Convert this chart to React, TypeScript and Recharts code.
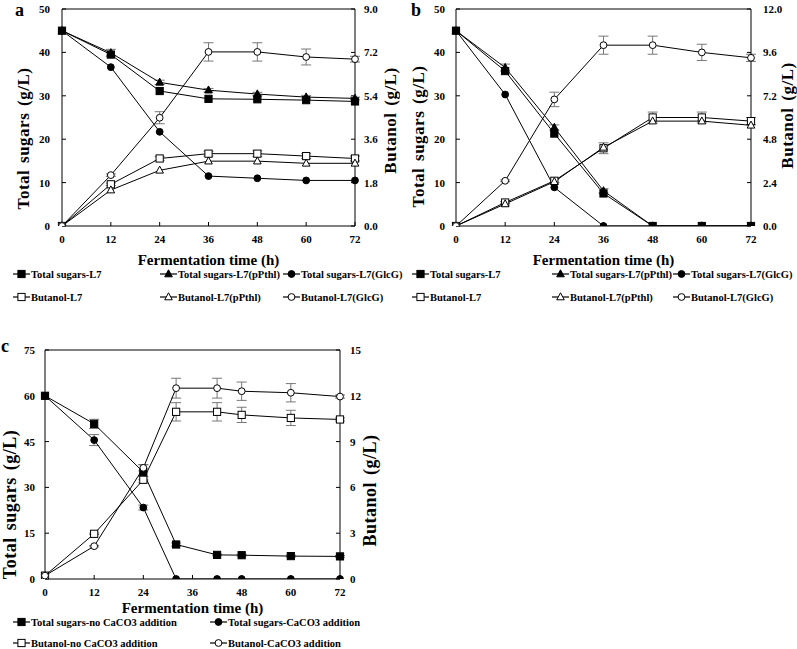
import React from 'react';
import { LineChart, Line, XAxis, YAxis, ErrorBar, ReferenceLine, Legend } from 'recharts';

const SERIF = '"Liberation Serif", "Times New Roman", serif';

// fermentation time (h)
const hoursAB = [0, 12, 24, 36, 48, 60, 72];
const hoursC = [0, 12, 24, 32, 42, 48, 60, 72];
const hourTicks = [0, 12, 24, 36, 48, 60, 72];

// panel a
const aSugarL7 = [45, 39.5, 31.1, 29.3, 29.2, 29.0, 28.7];
const aSugarPthl = [45, 39.9, 33.1, 31.3, 30.4, 29.7, 29.4];
const aSugarGlcG = [45, 36.6, 21.7, 11.5, 11.0, 10.5, 10.5];
const aButL7 = [0, 1.73, 2.8, 3.0, 3.0, 2.9, 2.8];
const aButPthl = [0, 1.49, 2.31, 2.69, 2.69, 2.6, 2.6];
const aButGlcG = [0, 2.11, 4.49, 7.22, 7.22, 7.01, 6.92];
const aSugarPthlErr = [0, 0.8, 0.5, 0.4, 0.4, 0.4, 0.3];
const aButL7Err = [0, 0.05, 0.08, 0.1, 0.12, 0.1, 0.1];
const aButGlcGErr = [0, 0.05, 0.25, 0.38, 0.38, 0.33, 0.12];

// panel b
const bSugarL7 = [45, 35.7, 21.3, 7.5, 0, 0, 0];
const bSugarPthl = [45, 36.5, 22.7, 8.1, 0, 0, 0];
const bSugarGlcG = [45, 30.3, 8.9, 0, 0, 0, 0];
const bButL7 = [0, 1.3, 2.5, 4.3, 6.0, 6.0, 5.8];
const bButPthl = [0, 1.22, 2.45, 4.35, 5.8, 5.8, 5.57];
const bButGlcG = [0, 2.5, 7.0, 10.0, 10.0, 9.6, 9.3];
const bSugarPthlErr = [0, 0.8, 0.6, 0.5, 0, 0, 0];
const bButL7Err = [0, 0.05, 0.1, 0.3, 0.3, 0.3, 0.2];
const bButGlcGErr = [0, 0.05, 0.4, 0.5, 0.5, 0.45, 0.2];

// panel c
const cSugarNo = [60, 50.8, 35.0, 11.3, 7.9, 7.8, 7.5, 7.4];
const cSugarCa = [60, 45.5, 23.4, 0, 0, 0, 0, 0];
const cButNo = [0.22, 2.96, 6.5, 10.95, 10.95, 10.75, 10.55, 10.45];
const cButCa = [0.22, 2.15, 7.28, 12.5, 12.5, 12.3, 12.2, 11.95];
const cSugarNoErr = [0, 1.5, 2.5, 0.5, 0.3, 0.3, 0.3, 0.3];
const cSugarCaErr = [0, 1.8, 0.8, 0, 0, 0, 0, 0];
const cButNoErr = [0, 0.05, 0.2, 0.6, 0.6, 0.5, 0.5, 0.1];
const cButCaErr = [0, 0.05, 0.2, 0.65, 0.65, 0.6, 0.6, 0.1];

const sugarTicksAB = [0, 10, 20, 30, 40, 50];
const butTicksA = [0, 1.8, 3.6, 5.4, 7.2, 9];
const butTicksB = [0, 2.4, 4.8, 7.2, 9.6, 12];
const sugarTicksC = [0, 15, 30, 45, 60, 75];
const butTicksC = [0, 3, 6, 9, 12, 15];

type Shape = 'square' | 'triangle' | 'circle';
interface Series {
  key: string;
  name: string;
  axis: 'L' | 'R';
  shape: Shape;
  filled: boolean;
  values: number[];
  err?: number[];
}

function marker(shape: Shape, filled: boolean) {
  return (props: any) => {
    const { cx, cy, index } = props;
    const k = `d${index}`;
    if (cx == null || cy == null) return <g key={k} />;
    const paint = { fill: filled ? '#000' : '#fff', stroke: '#000', strokeWidth: 1 };
    if (shape === 'square') return <rect key={k} x={cx - 3.6} y={cy - 3.6} width={7.2} height={7.2} {...paint} />;
    if (shape === 'triangle')
      return <polygon key={k} points={`${cx},${cy - 4.2} ${cx + 3.8},${cy + 2.8} ${cx - 3.8},${cy + 2.8}`} {...paint} />;
    return <circle key={k} cx={cx} cy={cy} r={3.4} {...paint} />;
  };
}

function LegendIcon({ shape, filled }: { shape: Shape; filled: boolean }) {
  return (
    <svg width={17} height={10} style={{ display: 'block' }}>
      <line x1={0} y1={5} x2={17} y2={5} stroke="#000" strokeWidth={1.2} />
      {marker(shape, filled)({ cx: 8.5, cy: 5, index: 0 })}
    </svg>
  );
}

function toRows(hours: number[], series: Series[]) {
  return hours.map((t, i) => {
    const row: any = { t };
    series.forEach((s) => {
      row[s.key] = s.values[i];
      if (s.err) row[s.key + '_e'] = s.err[i];
    });
    return row;
  });
}

const namesAB = [
  'Total sugars-L7',
  'Total sugars-L7(pPthl)',
  'Total sugars-L7(GlcG)',
  'Butanol-L7',
  'Butanol-L7(pPthl)',
  'Butanol-L7(GlcG)',
];

const seriesA: Series[] = [
  { key: 's1', name: namesAB[0], axis: 'L', shape: 'square', filled: true, values: aSugarL7 },
  { key: 's2', name: namesAB[1], axis: 'L', shape: 'triangle', filled: true, values: aSugarPthl, err: aSugarPthlErr },
  { key: 's3', name: namesAB[2], axis: 'L', shape: 'circle', filled: true, values: aSugarGlcG },
  { key: 'b1', name: namesAB[3], axis: 'R', shape: 'square', filled: false, values: aButL7, err: aButL7Err },
  { key: 'b2', name: namesAB[4], axis: 'R', shape: 'triangle', filled: false, values: aButPthl },
  { key: 'b3', name: namesAB[5], axis: 'R', shape: 'circle', filled: false, values: aButGlcG, err: aButGlcGErr },
];

const seriesB: Series[] = [
  { key: 's1', name: namesAB[0], axis: 'L', shape: 'square', filled: true, values: bSugarL7 },
  { key: 's2', name: namesAB[1], axis: 'L', shape: 'triangle', filled: true, values: bSugarPthl, err: bSugarPthlErr },
  { key: 's3', name: namesAB[2], axis: 'L', shape: 'circle', filled: true, values: bSugarGlcG },
  { key: 'b1', name: namesAB[3], axis: 'R', shape: 'square', filled: false, values: bButL7, err: bButL7Err },
  { key: 'b2', name: namesAB[4], axis: 'R', shape: 'triangle', filled: false, values: bButPthl },
  { key: 'b3', name: namesAB[5], axis: 'R', shape: 'circle', filled: false, values: bButGlcG, err: bButGlcGErr },
];

const seriesC: Series[] = [
  { key: 's1', name: 'Total sugars-no CaCO3 addition', axis: 'L', shape: 'square', filled: true, values: cSugarNo, err: cSugarNoErr },
  { key: 's2', name: 'Total sugars-CaCO3 addition', axis: 'L', shape: 'circle', filled: true, values: cSugarCa, err: cSugarCaErr },
  { key: 'b1', name: 'Butanol-no CaCO3 addition', axis: 'R', shape: 'square', filled: false, values: cButNo, err: cButNoErr },
  { key: 'b2', name: 'Butanol-CaCO3 addition', axis: 'R', shape: 'circle', filled: false, values: cButCa, err: cButCaErr },
];

const tickFont = { fontFamily: SERIF, fontSize: 11, fontWeight: 700, fill: '#000' };
const titleFont = { fontFamily: SERIF, fontSize: 15, fontWeight: 700, fill: '#000' };

// rotated y-axis title, placed relative to the axis box Recharts hands over
function yTitle(text: string, dx: number, dy: number, size: number) {
  return (props: any) => {
    const vb = props.viewBox || { x: 0, y: 0, width: 0, height: 0 };
    const x = vb.x + dx;
    const y = vb.y + vb.height / 2 + dy;
    return (
      <text
        x={x}
        y={y}
        transform={`rotate(-90 ${x} ${y})`}
        textAnchor="middle"
        dominantBaseline="central"
        fontFamily={SERIF}
        fontWeight={700}
        fontSize={size}
        fill="#000"
        style={{ letterSpacing: 0.5, wordSpacing: 2 }}
      >
        {text}
      </text>
    );
  };
}

interface PanelProps {
  x: number;
  y: number;
  w: number;
  h: number;
  margin: { top: number; right: number; bottom: number; left: number };
  hours: number[];
  series: Series[];
  leftTicks: number[];
  rightTicks: number[];
  rightFmt: (v: number) => string;
  tm: { x: number; l: number; r: number };
  xLabelOff: number;
  leftTitle: [number, number];
  rightTitle: [number, number];
  titleSize: number;
  xAxisH: number;
  legendH: number;
  legendCols: number[];
  legendRows: number[];
}

function Panel(p: PanelProps) {
  const data = toRows(p.hours, p.series);
  const leftMax = p.leftTicks[p.leftTicks.length - 1];
  const rightMax = p.rightTicks[p.rightTicks.length - 1];
  return (
    <div style={{ position: 'absolute', left: p.x, top: p.y }}>
      <LineChart width={p.w} height={p.h} data={data} margin={p.margin} style={{ overflow: 'visible' }}>
        <XAxis
          dataKey="t"
          type="number"
          domain={[0, 72]}
          ticks={hourTicks}
          height={p.xAxisH}
          tickSize={-4}
          tickMargin={p.tm.x}
          tick={tickFont}
          axisLine={{ stroke: '#000' }}
          tickLine={{ stroke: '#000' }}
          label={{ value: 'Fermentation time (h)', position: 'insideBottom', offset: p.xLabelOff, ...titleFont }}
        />
        <YAxis
          yAxisId="L"
          domain={[0, leftMax]}
          ticks={p.leftTicks}
          width={40}
          tickSize={-4}
          tickMargin={p.tm.l}
          tick={tickFont}
          axisLine={{ stroke: '#000' }}
          tickLine={{ stroke: '#000' }}
          allowDataOverflow
          label={yTitle('Total sugars (g/L)', p.leftTitle[0], p.leftTitle[1], p.titleSize)}
        />
        <YAxis
          yAxisId="R"
          orientation="right"
          domain={[0, rightMax]}
          ticks={p.rightTicks}
          tickFormatter={p.rightFmt}
          width={40}
          tickSize={-4}
          tickMargin={p.tm.r}
          tick={tickFont}
          axisLine={{ stroke: '#000' }}
          tickLine={{ stroke: '#000' }}
          allowDataOverflow
          label={yTitle('Butanol (g/L)', p.rightTitle[0], p.rightTitle[1], p.titleSize)}
        />
        <ReferenceLine yAxisId="L" y={leftMax} stroke="#000" strokeWidth={1} />
        {p.series.map((s) => (
          <Line
            key={s.key}
            yAxisId={s.axis}
            dataKey={s.key}
            name={s.name}
            stroke="#000"
            strokeWidth={1}
            dot={marker(s.shape, s.filled)}
            activeDot={false}
            isAnimationActive={false}
          >
            {s.err && <ErrorBar dataKey={s.key + '_e'} width={5} stroke="#777" strokeWidth={1} direction="y" />}
          </Line>
        ))}
        <Legend
          verticalAlign="bottom"
          align="left"
          wrapperStyle={{ left: 0, width: p.w, height: p.legendH }}
          content={() => (
            <div style={{ position: 'relative', height: p.legendH }}>
              {p.series.map((s, i) => {
                const col = i % p.legendCols.length;
                const row = Math.floor(i / p.legendCols.length);
                return (
                  <div
                    key={s.key}
                    style={{
                      position: 'absolute',
                      left: p.legendCols[col],
                      top: p.legendRows[row] - 8,
                      height: 16,
                      display: 'flex',
                      alignItems: 'center',
                      whiteSpace: 'nowrap',
                      fontFamily: SERIF,
                      fontWeight: 700,
                      fontSize: 10.5,
                      color: '#000',
                    }}
                  >
                    <LegendIcon shape={s.shape} filled={s.filled} />
                    <span style={{ marginLeft: 1 }}>{s.name}</span>
                  </div>
                );
              })}
            </div>
          )}
        />
      </LineChart>
    </div>
  );
}

const panelLetter = (ch: string, x: number, y: number) => (
  <div
    style={{
      position: 'absolute',
      left: x,
      top: y,
      fontFamily: SERIF,
      fontWeight: 700,
      fontSize: 18,
      lineHeight: 'normal',
      color: '#000',
    }}
  >
    {ch}
  </div>
);

export default function App() {
  return (
    <div
      style={{
        position: 'absolute',
        left: 0,
        top: 0,
        width: 797,
        height: 649,
        overflow: 'hidden',
        background: '#fff',
      }}
    >
      <Panel
        x={0}
        y={0}
        w={400}
        h={306}
        margin={{ top: 9, right: 5, bottom: 0, left: 22 }}
        hours={hoursAB}
        series={seriesA}
        leftTicks={sugarTicksAB}
        rightTicks={butTicksA}
        rightFmt={(v) => v.toFixed(1)}
        tm={{ x: 13, l: 16, r: 13 }}
        xLabelOff={-1}
        leftTitle={[1, 21]}
        rightTitle={[35, 3]}
        titleSize={17}
        xAxisH={38}
        legendH={42}
        legendCols={[13, 160, 283]}
        legendRows={[10, 33]}
      />
      <Panel
        x={400}
        y={0}
        w={397}
        h={306}
        margin={{ top: 9, right: 6, bottom: 0, left: 16 }}
        hours={hoursAB}
        series={seriesB}
        leftTicks={sugarTicksAB}
        rightTicks={butTicksB}
        rightFmt={(v) => v.toFixed(1)}
        tm={{ x: 13, l: 15, r: 16 }}
        xLabelOff={-1}
        leftTitle={[2, 19]}
        rightTitle={[36, -2]}
        titleSize={17}
        xAxisH={38}
        legendH={42}
        legendCols={[12, 152, 273]}
        legendRows={[10, 33]}
      />
      <Panel
        x={0}
        y={340}
        w={400}
        h={316}
        margin={{ top: 10, right: 20, bottom: 0, left: 5 }}
        hours={hoursC}
        series={seriesC}
        leftTicks={sugarTicksC}
        rightTicks={butTicksC}
        rightFmt={(v) => String(v)}
        tm={{ x: 13, l: 14, r: 14 }}
        xLabelOff={-2}
        leftTitle={[5, 40]}
        rightTitle={[30, 26]}
        titleSize={18}
        xAxisH={32}
        legendH={45}
        legendCols={[13, 210]}
        legendRows={[11, 32]}
      />
      {panelLetter('a', 15, 0)}
      {panelLetter('b', 411, 0)}
      {panelLetter('c', 1, 336)}
    </div>
  );
}
